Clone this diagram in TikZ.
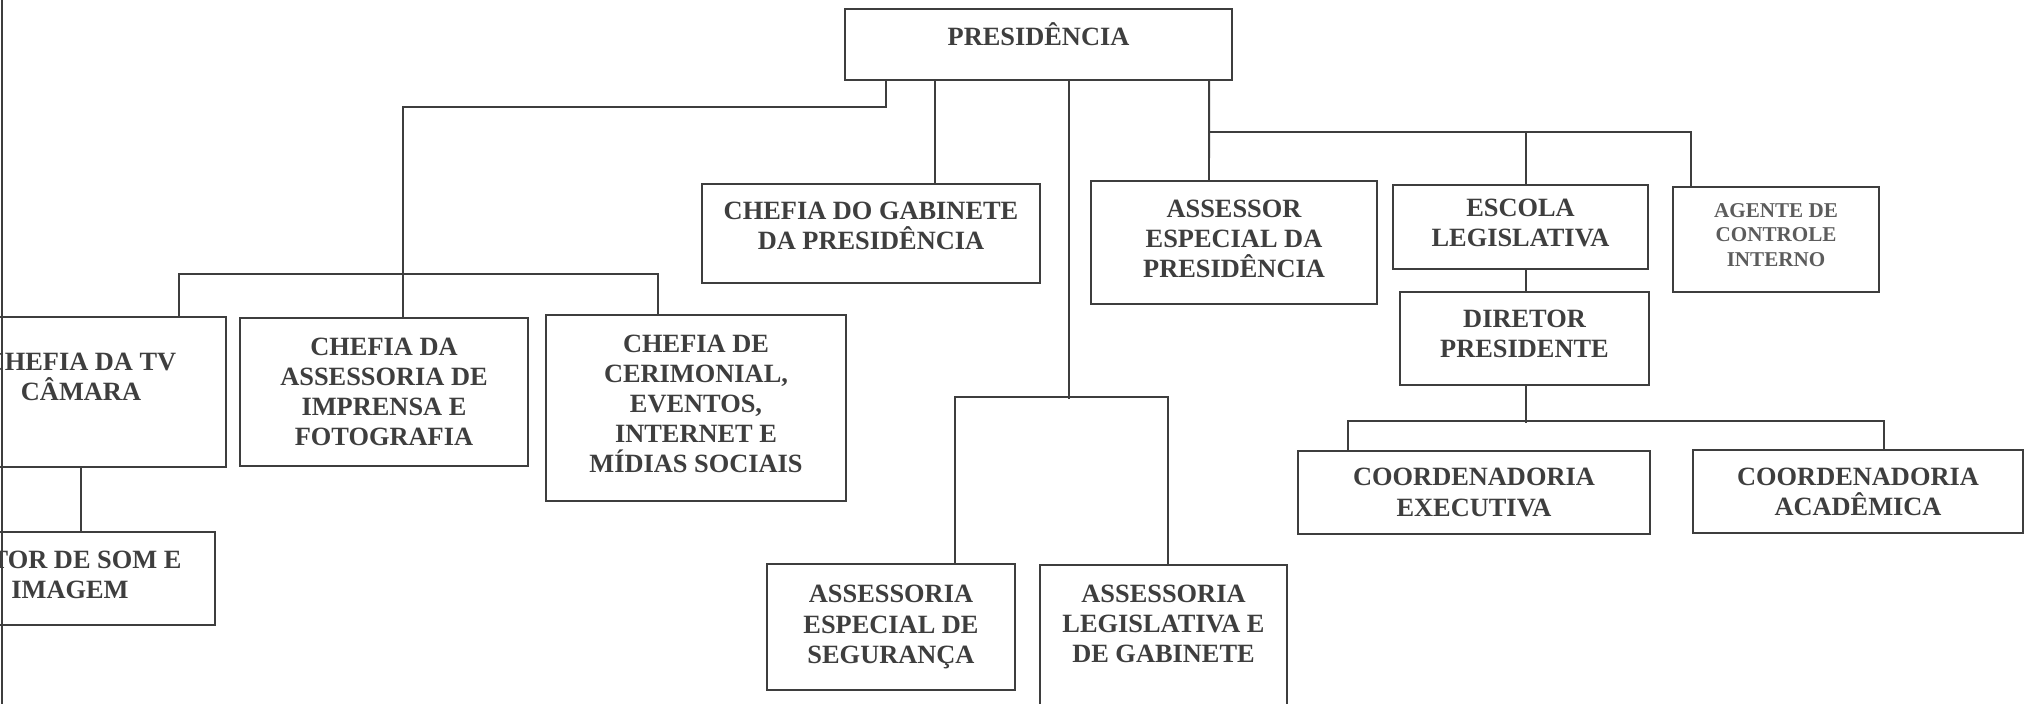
\documentclass[tikz,border=0pt]{standalone}
\usepackage{fontspec}
\setmainfont{Liberation Serif}
\usetikzlibrary{positioning}
\definecolor{ink}{RGB}{62,62,62}
\definecolor{faint}{RGB}{92,92,92}
\tikzset{
  unit/.style={draw=ink, line width=0.55pt, inner sep=2pt, align=center, text=ink,
    font=\fontsize{7.5}{8.55}\selectfont\bfseries},
  caption/.style={inner sep=0pt, align=center, text=ink,
    font=\fontsize{7.5}{8.55}\selectfont\bfseries},
  wire/.style={draw=ink, line width=0.55pt},
  lift/.style={text depth=#1}
}

\begin{document}
\begin{tikzpicture}[x=0.01cm, y=-0.01cm]
    \useasboundingbox (0,0) rectangle (2028,704);
    \clip (0,0) rectangle (2028,704);

    \node[unit, minimum width=3.87cm, minimum height=0.71cm] (pres) at (1038.5,44.5) {};
    \node[caption, below=0.14cm of pres.north] (presT) {PRESIDÊNCIA};

    \node[unit, lift=4.4pt, minimum width=3.38cm, minimum height=0.99cm] (gab) at (871,233.5) {CHEFIA DO GABINETE\\DA PRESIDÊNCIA};
    \node[unit, lift=2.2pt, minimum width=2.86cm, minimum height=1.23cm] (assesp) at (1234,242.5) {ASSESSOR\\ESPECIAL DA\\PRESIDÊNCIA};
    \node[unit, lift=2.6pt, minimum width=2.55cm, minimum height=0.84cm] (escola) at (1520.5,227) {ESCOLA\\LEGISLATIVA};
    \node[unit, lift=2.6pt, minimum width=2.06cm, minimum height=1.05cm, text=faint,
        font=\fontsize{6}{7}\selectfont\bfseries] (agente) at (1776,239.5) {AGENTE DE\\CONTROLE\\INTERNO};
    \node[unit, lift=2.6pt, minimum width=2.49cm, minimum height=0.93cm] (diretor) at (1524.5,338.5) {DIRETOR\\PRESIDENTE};
    \node[unit, minimum width=3.52cm, minimum height=0.83cm] (coordexec) at (1474,492.5) {COORDENADORIA\\EXECUTIVA};
    \node[unit, minimum width=3.30cm, minimum height=0.83cm] (coordacad) at (1858,491.5) {COORDENADORIA\\ACADÊMICA};

    \node[unit, minimum width=2.90cm, minimum height=1.50cm] (tv) at (81,392) {};
    \node[caption, below=0.36cm of tv.north] (tvT) {CHEFIA DA TV\\CÂMARA};
    \node[unit, minimum width=2.88cm, minimum height=1.48cm] (imprensa) at (384,392) {CHEFIA DA\\ASSESSORIA DE\\IMPRENSA E\\FOTOGRAFIA};
    \node[unit, lift=2.2pt, minimum width=3.00cm, minimum height=1.86cm] (ceri) at (696,408) {CHEFIA DE\\CERIMONIAL,\\EVENTOS,\\INTERNET E\\MÍDIAS SOCIAIS};
    \node[unit, lift=2.2pt, minimum width=2.90cm, minimum height=0.93cm] (som) at (70,578.5) {SETOR DE SOM E\\IMAGEM};

    \node[unit, minimum width=2.48cm, minimum height=1.26cm] (seg) at (891,627) {ASSESSORIA\\ESPECIAL DE\\SEGURANÇA};
    \node[unit, minimum width=2.47cm, minimum height=2.40cm, anchor=north] (legis) at (1163.5,564) {};
    \node[caption, below=0.20cm of legis.north] (legisT) {ASSESSORIA\\LEGISLATIVA E\\DE GABINETE};

    \coordinate (edgeT) at (2,0);
    \coordinate (edgeB) at (2,704);
    \draw[wire] (edgeT) -- (edgeB);

    \draw[wire] ([xshift=-1.525cm]pres.south) -- ++(0,26) -| ([xshift=0.19cm]imprensa.north);
    \draw[wire] ([xshift=0.98cm]tv.north) -- ++(0,-42) -| ([xshift=-0.38cm]ceri.north);
    \draw[wire] (tv.south) -- (som.north -| tv.south);

    \draw[wire] ([xshift=0.64cm]gab.north) -- ++(0,-104);

    \draw[wire] ([xshift=0.305cm]pres.south) -- ++(0,318);
    \draw[wire] ([xshift=0.64cm]seg.north) -- ++(0,-166) -| ([xshift=0.045cm]legis.north);

    \draw[wire] ([xshift=1.705cm]pres.south) -- ([xshift=-0.25cm]assesp.north);
    \draw[wire] ([xshift=-0.25cm]assesp.north) ++(0,-48) -| ([xshift=-0.85cm]agente.north);
    \draw[wire] ([xshift=0.055cm]escola.north) -- ++(0,-52);
    \draw[wire] ([xshift=0.055cm]escola.south) -- ++(0,23);
    \draw[wire] ([xshift=0.015cm]diretor.south) -- ++(0,37);
    \draw[wire] ([xshift=-1.26cm]coordexec.north) -- ++(0,-29) -| ([xshift=0.26cm]coordacad.north);
\end{tikzpicture}
\end{document}
